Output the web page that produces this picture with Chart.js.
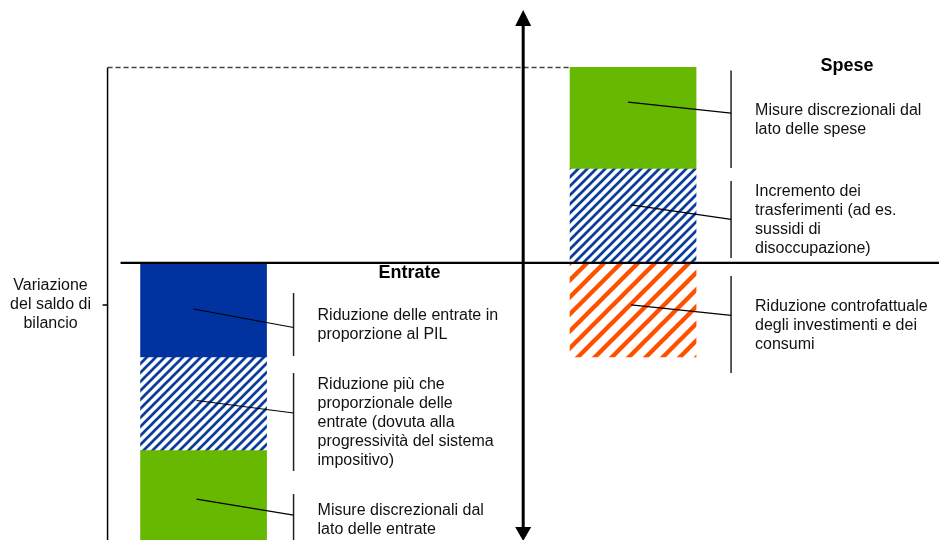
<!DOCTYPE html>
<html>
<head>
<meta charset="utf-8">
<script src="https://cdn.jsdelivr.net/npm/chart.js@4/dist/chart.umd.min.js"></script>
<style>
  html, body { margin: 0; padding: 0; background: #fff; }
</style>
</head>
<body>
<canvas id="myChart" width="939" height="540"></canvas>
<script>
// slots along x: Entrate bar, the vertical axis slot, Spese bar
const categories = ['', 'Entrate', '', '', '', 'Spese', '', ''];
const axisSlot = 4;

const entrateLabels = [
    'Riduzione delle entrate in\nproporzione al PIL',
    'Riduzione più che\nproporzionale delle\nentrate (dovuta alla\nprogressività del sistema\nimpositivo)',
    'Misure discrezionali dal\nlato delle entrate'
];
const entrateValues = [-1.0, -0.99, -1.0];

const speseLabels = [
    'Incremento dei\ntrasferimenti (ad es.\nsussidi di\ndisoccupazione)',
    'Misure discrezionali dal\nlato delle spese',
    'Riduzione controfattuale\ndegli investimenti e dei\nconsumi'
];
const speseValues = [1.0, 1.08, -1.0];

const yTitle = ['Variazione', 'del saldo di', 'bilancio'];

const FONT = "'Liberation Sans', Arial, sans-serif";
const darkBlue = '#0033a0';
const green = '#66b800';

function hatch(color, size, width) {
    const c = document.createElement('canvas');
    c.width = size;
    c.height = size;
    const g = c.getContext('2d');
    g.fillStyle = '#fff';
    g.fillRect(0, 0, size, size);
    g.strokeStyle = color;
    g.lineWidth = width;
    g.beginPath();
    g.moveTo(-2, 2); g.lineTo(2, -2);
    g.moveTo(0, size); g.lineTo(size, 0);
    g.moveTo(size - 2, size + 2); g.lineTo(size + 2, size - 2);
    g.stroke();
    return g.createPattern(c, 'repeat');
}

const blueHatch = hatch('#0a3c9e', 9, 2.7);
const orangeHatch = hatch('#ff5000', 17, 4.4);

const entrateFills = [darkBlue, blueHatch, green];
const speseFills = [blueHatch, green, orangeHatch];

const iE = categories.indexOf('Entrate');
const iS = categories.indexOf('Spese');

function slotData(idx, v) {
    return categories.map((c, i) => i === idx ? v : null);
}

const datasets = [];
entrateValues.forEach((v, k) => {
    datasets.push({ label: entrateLabels[k], data: slotData(iE, v), backgroundColor: entrateFills[k] });
});
speseValues.forEach((v, k) => {
    datasets.push({ label: speseLabels[k], data: slotData(iS, v), backgroundColor: speseFills[k] });
});

// drawing tweaks for brackets / leaders, per dataset (px)
const bracketOff = [[30, -1], [16, 21], [44, 0], [12, -5], [3, -1], [13, 16]];
const leaderStart = [[-10, -1], [-7, -3], [-7, 2], [-2, -11], [-5, -16], [-2, -5]];
const leaderEnd = [3, -9, -4, 0, -6, -9];

const annotate = {
    id: 'annotate',
    afterDatasetsDraw(chart) {
        const { ctx, chartArea, scales: { x, y } } = chart;
        const y0 = y.getPixelForValue(0);
        const half = 63;
        const xE = x.getPixelForValue(iE);
        const xS = x.getPixelForValue(iS);
        const posTotal = speseValues.filter(v => v > 0).reduce((a, b) => a + b, 0);
        const yTop = y.getPixelForValue(posTotal);
        const frameX = xE - half - 33;

        ctx.save();
        ctx.strokeStyle = '#000';

        // left frame line + tick
        ctx.lineWidth = 1.5;
        ctx.beginPath();
        ctx.moveTo(frameX, yTop);
        ctx.lineTo(frameX, chart.height);
        ctx.moveTo(frameX - 5, y0 + 42);
        ctx.lineTo(frameX, y0 + 42);
        ctx.stroke();

        // dashed guide at top of the Spese stack
        ctx.strokeStyle = '#444';
        ctx.setLineDash([5, 3]);
        ctx.beginPath();
        ctx.moveTo(frameX, yTop);
        ctx.lineTo(xS - half, yTop);
        ctx.stroke();
        ctx.setLineDash([]);

        // zero line
        ctx.strokeStyle = '#000';
        ctx.lineWidth = 2.2;
        ctx.beginPath();
        ctx.moveTo(xE - half - 20, y0);
        ctx.lineTo(chart.width, y0);
        ctx.stroke();

        // vertical arrow axis
        const ax = x.getPixelForValue(axisSlot) - 2.5;
        ctx.lineWidth = 3;
        ctx.beginPath();
        ctx.moveTo(ax, chartArea.top + 12);
        ctx.lineTo(ax, chart.height - 10);
        ctx.stroke();
        ctx.fillStyle = '#000';
        ctx.beginPath();
        ctx.moveTo(ax, chartArea.top);
        ctx.lineTo(ax - 8, chartArea.top + 16);
        ctx.lineTo(ax + 8, chartArea.top + 16);
        ctx.closePath();
        ctx.fill();
        ctx.beginPath();
        ctx.moveTo(ax, chart.height + 1);
        ctx.lineTo(ax - 8, chart.height - 13);
        ctx.lineTo(ax + 8, chart.height - 13);
        ctx.closePath();
        ctx.fill();

        // y title
        ctx.font = '16px ' + FONT;
        ctx.fillStyle = '#111';
        ctx.textAlign = 'center';
        ctx.textBaseline = 'middle';
        yTitle.forEach((t, k) => ctx.fillText(t, frameX - 57, y0 + 42 + (k - 1) * 19));

        // brackets, leaders and notes
        chart.data.datasets.forEach((ds, i) => {
            const meta = chart.getDatasetMeta(i);
            const slot = i < entrateValues.length ? iE : iS;
            const el = meta.data[slot];
            const top = Math.min(el.y, el.base);
            const bot = Math.max(el.y, el.base);
            const gap = slot === iE ? 27 : 35;
            const bx = el.x + half + gap;
            const bTop = top + bracketOff[i][0];
            const bBot = bot + bracketOff[i][1];
            const bMid = (bTop + bBot) / 2;

            ctx.strokeStyle = '#222';
            ctx.lineWidth = 1.5;
            ctx.beginPath();
            ctx.moveTo(bx, bTop);
            ctx.lineTo(bx, bBot);
            ctx.stroke();

            ctx.strokeStyle = '#000';
            ctx.lineWidth = 1.2;
            ctx.beginPath();
            ctx.moveTo(el.x + leaderStart[i][0], (top + bot) / 2 + leaderStart[i][1]);
            ctx.lineTo(bx, bMid + leaderEnd[i]);
            ctx.stroke();

            const lines = ds.label.split('\n');
            ctx.font = '16px ' + FONT;
            ctx.fillStyle = '#111';
            ctx.textAlign = 'left';
            ctx.textBaseline = 'middle';
            lines.forEach((t, k) => {
                ctx.fillText(t, bx + 24, bMid + 1 + (k - (lines.length - 1) / 2) * 19);
            });
        });

        // group titles
        ctx.font = 'bold 18px ' + FONT;
        ctx.textAlign = 'center';
        ctx.fillStyle = '#000';
        ctx.fillText('Entrate', xE + half + 27 + 116, y0 + 10);
        ctx.fillText('Spese', xS + half + 35 + 116, yTop - 1);

        ctx.restore();
    }
};

const ctx = document.getElementById('myChart').getContext('2d');
const myChart = new Chart(ctx, {
    type: 'bar',
    data: {
        labels: categories,
        datasets: datasets
    },
    options: {
        responsive: false,
        animation: false,
        barThickness: 126,
        borderWidth: 0,
        layout: {
            padding: { top: 10, bottom: 0, left: 42.5, right: 37.5 }
        },
        plugins: {
            legend: { display: false },
            tooltip: { enabled: false }
        },
        scales: {
            x: {
                display: false,
                stacked: true,
                grid: { display: false }
            },
            y: {
                display: false,
                stacked: true,
                min: -2.947,
                max: 2.691,
                grid: { display: false }
            }
        }
    },
    plugins: [annotate]
});
</script>
</body>
</html>
